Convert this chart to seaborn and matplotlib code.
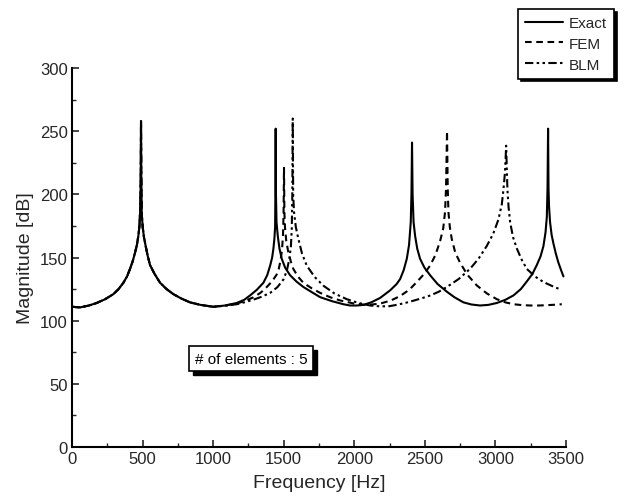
import matplotlib
matplotlib.use("Agg")
import matplotlib.pyplot as plt
from matplotlib.patches import Rectangle
from matplotlib.ticker import MultipleLocator
import seaborn as sns
import pandas as pd

# Frequency response samples: (frequency [Hz], magnitude [dB])
exact_freq = [0, 57, 120, 175, 235, 293, 330, 364, 390, 411, 430, 447, 460, 470, 478, 484, 487,
              489, 491, 494, 501, 510, 522, 537, 553, 585, 624, 670, 718, 775, 836, 910, 1001,
              1085, 1167, 1220, 1262, 1310, 1356, 1383, 1404, 1418, 1427, 1434, 1439, 1441,
              1443, 1445, 1449, 1458, 1470, 1486, 1510, 1545, 1590, 1640, 1700, 1758, 1840,
              1923, 1970, 2020, 2065, 2120, 2183, 2254, 2300, 2325, 2350, 2372, 2388, 2400,
              2405, 2409, 2413, 2420, 2431, 2446, 2466, 2497, 2537, 2590, 2655, 2710, 2773,
              2830, 2891, 2950, 3010, 3070, 3128, 3180, 3222, 3262, 3293, 3320, 3340, 3355,
              3364, 3369, 3373, 3376, 3380, 3387, 3398, 3411, 3428, 3446, 3465, 3482]
exact_mag = [111, 110.5, 112, 114, 117, 121, 125, 130, 135, 141, 147, 154, 160, 167, 175, 190, 215,
             258, 215, 185, 174, 166, 159, 151, 144, 137, 130, 125, 121, 117.5, 114.5, 112.5, 111,
             112, 114, 116.5, 120, 124.5, 130, 136, 143.6, 150, 157, 165, 174, 200,
             252, 200, 178, 167, 157, 149, 142, 136, 131, 126.6, 122.5, 118.6, 115.5,
             113, 112, 112, 112.5, 114.5, 118, 124, 129, 133, 140, 149, 160, 178,
             200, 241, 200, 178, 167, 157, 149, 142, 136, 129, 123, 118.5, 114.5,
             112.8, 112, 112.5, 114, 116.5, 120, 125, 131, 137, 144, 151, 159, 170,
             182, 205, 252, 205, 190, 178, 168, 161, 153, 146, 140, 135]

fem_freq = [0, 57, 120, 175, 235, 293, 330, 364, 390, 411, 430, 447, 460, 470, 478, 484, 487,
            489, 491, 494, 501, 510, 522, 537, 553, 585, 624, 670, 718, 775, 836, 910, 1001,
            1085, 1167, 1230, 1285, 1335, 1380, 1420, 1450, 1465, 1478, 1488, 1495, 1499,
            1502, 1505, 1509, 1518, 1533, 1550, 1568, 1600, 1639, 1700, 1758, 1830, 1900,
            2000, 2090, 2183, 2260, 2325, 2390, 2443, 2495, 2537, 2575, 2608, 2630, 2643,
            2650, 2657, 2662, 2667, 2677, 2690, 2715, 2749, 2800, 2867, 2940, 3010, 3070,
            3128, 3190, 3246, 3310, 3370, 3420, 3470]
fem_mag = [111, 110.5, 112, 114, 117, 121, 125, 130, 135, 141, 147, 154, 160, 167, 175, 190, 215,
           258, 215, 185, 174, 166, 159, 151, 144, 137, 130, 125, 121, 117.5, 114.5, 112.5, 111,
           112, 113.5, 115.8, 118.5, 122, 126.6, 131.5, 136.5, 141, 148, 156, 168, 185,
           221, 185, 174, 163, 154, 147, 141, 135, 130, 125.5, 122, 118.5, 116,
           113.5, 112.4, 113.5, 116, 119.5, 124.5, 130.6, 137, 143.6, 152, 163, 173, 186,
           205, 250, 205, 186, 174, 165, 154, 146, 136.5, 128, 121.5, 117, 114.5,
           113, 112.3, 112, 112, 112.3, 112.6, 113]

blm_freq = [0, 57, 120, 175, 235, 293, 330, 364, 390, 411, 430, 447, 460, 470, 478, 484, 487,
            489, 491, 494, 501, 510, 522, 537, 553, 585, 624, 670, 718, 775, 836, 910, 1001,
            1085, 1167, 1230, 1285, 1345, 1404, 1455, 1498, 1522, 1540, 1551, 1557, 1561,
            1564, 1567, 1573, 1586, 1604, 1630, 1663, 1720, 1782, 1860, 1947, 2030, 2112,
            2183, 2250, 2300, 2360, 2419, 2480, 2540, 2600, 2655, 2740, 2820, 2880, 2938,
            2985, 3021, 3045, 3057, 3068, 3076, 3081, 3085, 3093, 3104, 3125, 3152, 3185,
            3222, 3280, 3340, 3400, 3458]
blm_mag = [111, 110.5, 112, 114, 117, 121, 125, 130, 135, 141, 147, 154, 160, 167, 175, 190, 215,
           258, 215, 185, 174, 166, 159, 151, 144, 137, 130, 125, 121, 117.5, 114.5, 112.5, 111,
           111.8, 113, 114.8, 116.6, 119, 122, 126.5, 132.6, 139.5, 149, 159, 172.6, 200,
           260, 200, 186, 174, 164.7, 153, 143.6, 134.5, 127.6, 121.5, 117, 114, 112,
           111.3, 111.5, 112.5, 114, 115.8, 117.8, 120, 123, 126.6, 133, 141, 149, 159,
           169, 180, 192, 204, 218, 238.5, 218, 204, 190, 178, 166, 157, 148.5,
           141, 135, 130.6, 127.5, 124.8]

series_names = ["Exact", "FEM", "BLM"]
x_label = "Frequency [Hz]"
y_label = "Magnitude [dB]"
note_text = "# of elements : 5"

frames = []
for name, fr, mg in zip(series_names, [exact_freq, fem_freq, blm_freq],
                        [exact_mag, fem_mag, blm_mag]):
    frames.append(pd.DataFrame({"freq": fr, "mag": mg, "method": name}))
df = pd.concat(frames, ignore_index=True)

sns.set_style("ticks")
plt.rcParams["font.family"] = ["Liberation Sans Narrow", "Liberation Sans", "DejaVu Sans"]

fig = plt.figure(figsize=(6.31, 5.02), dpi=100)
ax = fig.add_axes([0.1141, 0.1076, 0.7829, 0.7549])

styles = {"Exact": "-", "FEM": (0, (3.2, 2.2)), "BLM": (0, (4, 1.6, 1.2, 1.6, 1.2, 1.6))}
for name in series_names:
    sub = df[df["method"] == name]
    sns.lineplot(data=sub, x="freq", y="mag", ax=ax, color="black", linewidth=1.5,
                 linestyle=styles[name], label=name, sort=False, estimator=None)

ax.set_xlim(0, 3500)
ax.set_ylim(0, 300)
ax.xaxis.set_major_locator(MultipleLocator(500))
ax.xaxis.set_minor_locator(MultipleLocator(250))
ax.yaxis.set_major_locator(MultipleLocator(50))
ax.yaxis.set_minor_locator(MultipleLocator(25))
ax.tick_params(which="major", direction="in", length=5, width=1.2, labelsize=12, pad=3)
ax.tick_params(which="minor", direction="in", length=3, width=1.0)
ax.tick_params(axis="x", which="both", top=False)
ax.tick_params(axis="y", which="both", right=False)
for side in ["top", "right"]:
    ax.spines[side].set_visible(False)
for side in ["left", "bottom"]:
    ax.spines[side].set_linewidth(1.5)
    ax.spines[side].set_color("black")

ax.set_xlabel(x_label, fontsize=14, labelpad=6)
ax.set_ylabel(y_label, fontsize=14, labelpad=4)

leg = ax.legend(loc="upper left", bbox_to_anchor=(0.821, 0.98),
                bbox_transform=fig.transFigure, frameon=True, fancybox=False,
                shadow={"color": "black", "alpha": 1.0}, fontsize=11,
                handlelength=2.5, handletextpad=0.4, labelspacing=0.45,
                borderpad=0.45, borderaxespad=0)
leg.get_frame().set_edgecolor("black")
leg.get_frame().set_linewidth(1.2)

# Annotation box with a solid drop shadow drawn as a patch behind it
note = ax.text(1269, 70, note_text, fontsize=11, ha="center", va="center", color="black",
               zorder=5,
               bbox=dict(boxstyle="square,pad=0.35", fc="white", ec="black", lw=1.2))
fig.canvas.draw()
box = note.get_bbox_patch().get_window_extent()
fig.patches.append(Rectangle((box.x0 + 4, box.y0 - 4), box.width, box.height,
                             transform=None, facecolor="black", edgecolor="black",
                             zorder=1, figure=fig))
ax.set_zorder(2)
ax.patch.set_alpha(0)

fig.savefig("out.png", dpi=100)
